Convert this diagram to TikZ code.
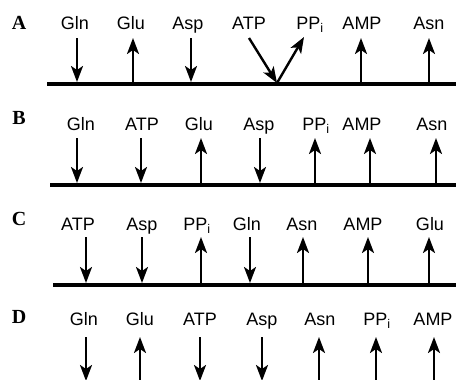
\documentclass[tikz,border=0pt]{standalone}
\usepackage{fontspec}
\setmainfont{Liberation Serif}
\setsansfont{Liberation Sans}
\usetikzlibrary{arrows.meta}
\tikzset{
  axis/.style={line width=3.8pt},
  flux/.style={line width=2.4pt, -{Stealth[length=16pt,width=12pt,inset=4pt]}},
  metab/.style={font=\sffamily\fontsize{18}{18}\selectfont, anchor=base, inner sep=0pt},
  panel/.style={font=\rmfamily\bfseries\fontsize{20}{20}\selectfont, anchor=base, inner sep=0pt}
}
% \dir: 1 = taken up (arrow into the line), 0 = released
\newcommand{\fluxarrow}[4]{%
  \coordinate (#1t) at (#2,#3);
  \coordinate (#1f) at (#2,#4);
  \ifnum\dir=1 \draw[flux] (#1t) -- (#1f); \else \draw[flux] (#1f) -- (#1t); \fi
}

\begin{document}
\begin{tikzpicture}[x=1pt, y=-1pt]
  \useasboundingbox (0,0) rectangle (456,380);

  % panel A
  \node[panel] (pA) at (19,29) {A};
  \coordinate (lA0) at (47,84);
  \coordinate (lA1) at (456,84);
  \draw[axis] (lA0) -- (lA1);
  \foreach \lx/\ax/\txt/\dir [count=\i] in
    {75/77/Gln/1, 131/133/Glu/0, 188/191/Asp/1, 362/361/AMP/0, 429/429/Asn/0} {
    \node[metab] (mA\i) at (\lx,29) {\txt};
    \fluxarrow{aA\i}{\ax}{38}{82}
  }
  \node[metab] (mATP) at (249,29) {ATP};
  \node[metab] (mPPi) at (310,29) {PP\textsubscript{i}};
  \coordinate (atp) at (249,38);
  \coordinate (ppi) at (304,37);
  \coordinate (vA) at (277,83);
  \draw[flux] (atp) -- (vA);
  \draw[flux] (vA) -- (ppi);

  % panel B
  \node[panel] (pB) at (19,124) {B};
  \coordinate (lB0) at (50,185);
  \coordinate (lB1) at (456,185);
  \draw[axis] (lB0) -- (lB1);
  \foreach \lx/\ax/\txt/\dir [count=\i] in
    {81/77/Gln/1, 142/141/ATP/1, 199/201/Glu/0, 259/260/Asp/1,
     316/315/{PP\textsubscript{i}}/0, 362/370/AMP/0, 432/436/Asn/0} {
    \node[metab] (mB\i) at (\lx,130) {\txt};
    \fluxarrow{aB\i}{\ax}{138}{183}
  }

  % panel C
  \node[panel] (pC) at (19,225) {C};
  \coordinate (lC0) at (53,285);
  \coordinate (lC1) at (456,285);
  \draw[axis] (lC0) -- (lC1);
  \foreach \lx/\ax/\txt/\dir [count=\i] in
    {78/86/ATP/1, 142/142/Asp/1, 197/201/{PP\textsubscript{i}}/0, 247/250/Gln/1,
     302/303/Asn/0, 363/368/AMP/0, 430/429/Glu/0} {
    \node[metab] (mC\i) at (\lx,230) {\txt};
    \fluxarrow{aC\i}{\ax}{237}{283}
  }

  % panel D (no line)
  \node[panel] (pD) at (19,323) {D};
  \foreach \lx/\ax/\txt/\dir [count=\i] in
    {84/86/Gln/1, 140/140/Glu/0, 200/200/ATP/1, 262/262/Asp/1,
     320/319/Asn/0, 377/376/{PP\textsubscript{i}}/0, 433/434/AMP/0} {
    \node[metab] (mD\i) at (\lx,325) {\txt};
    \fluxarrow{aD\i}{\ax}{337}{381}
  }
\end{tikzpicture}
\end{document}
